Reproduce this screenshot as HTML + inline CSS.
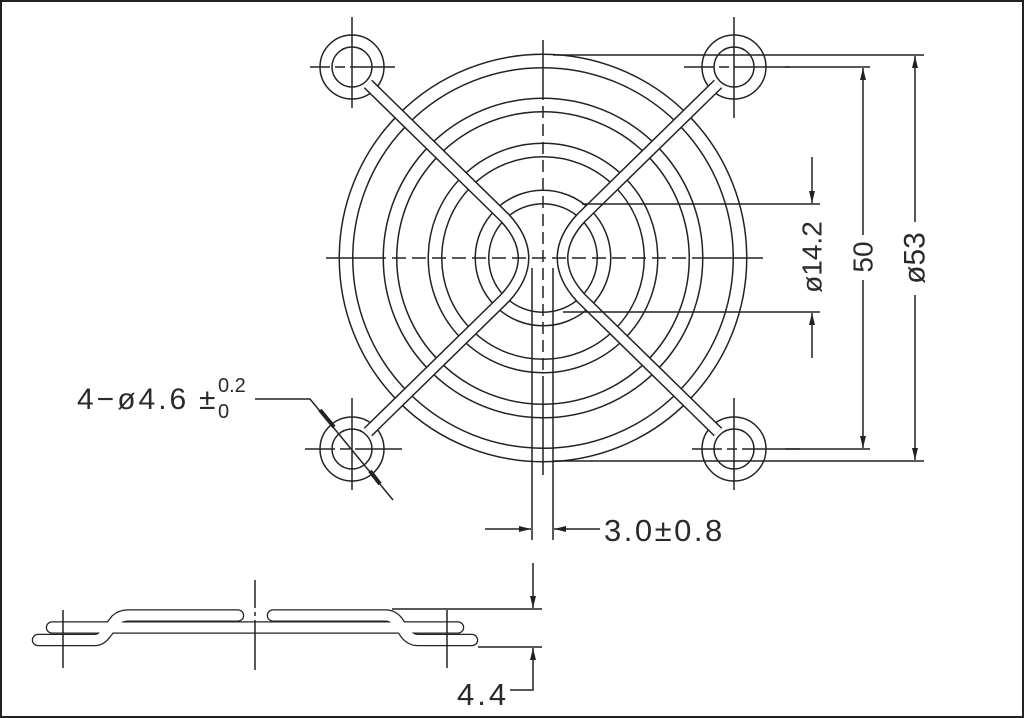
<!DOCTYPE html>
<html><head><meta charset="utf-8"><style>
html,body{margin:0;padding:0;background:#fff;}
svg{display:block;}
text{font-family:"Liberation Sans",sans-serif;fill:#2a2a2a;}
</style></head><body>
<svg width="1024" height="718" viewBox="0 0 1024 718" xmlns="http://www.w3.org/2000/svg">
<rect x="1" y="1" width="1022" height="716" fill="#fff" stroke="#222" stroke-width="2"/>
<defs>
<marker id="ar" viewBox="0 0 12 6" refX="12" refY="3" markerWidth="12" markerHeight="6" markerUnits="userSpaceOnUse" orient="auto">
<path d="M0,0 L12,3 L0,6 Z" fill="#222"/></marker>
</defs>
<g stroke="#222" fill="none" stroke-width="1.5">
<g stroke="#222" stroke-width="15">
<circle cx="543" cy="258" r="197"/><circle cx="543" cy="258" r="153"/><circle cx="543" cy="258" r="108"/><circle cx="543" cy="258" r="61"/>
<circle cx="352" cy="67" r="26" stroke-width="13.5"/><circle cx="734" cy="67" r="26" stroke-width="13.5"/>
<circle cx="352" cy="449" r="26" stroke-width="13.5"/><circle cx="734" cy="449" r="26" stroke-width="13.5"/>
</g>
<g stroke="#fff" stroke-width="12">
<circle cx="543" cy="258" r="197"/><circle cx="543" cy="258" r="153"/><circle cx="543" cy="258" r="108"/><circle cx="543" cy="258" r="61"/>
<circle cx="352" cy="67" r="26" stroke-width="10.5"/><circle cx="734" cy="67" r="26" stroke-width="10.5"/>
<circle cx="352" cy="449" r="26" stroke-width="10.5"/><circle cx="734" cy="449" r="26" stroke-width="10.5"/>
</g>
<path d="M368,84 L505,218 Q542,258 505,298 L368,432" stroke-width="12"/>
<path d="M718,84 L581,218 Q544,258 581,298 L718,432" stroke-width="12"/>
<path d="M368,84 L505,218 Q542,258 505,298 L368,432" stroke="#fff" stroke-width="9"/>
<path d="M718,84 L581,218 Q544,258 581,298 L718,432" stroke="#fff" stroke-width="9"/>
<line x1="543" y1="40" x2="543" y2="475" stroke-dasharray="60,6,12,6,12,6,12,6,12,6,12,6,12,6,12,6,12,6,12,6,12,6,12,6,12,6,12,6,12,6,12,6,100"/>
<line x1="326" y1="258" x2="763" y2="258" stroke-dasharray="60,6,14,6,14,6,14,6,14,6,14,6,14,6,14,6,14,6,14,6,14,6,14,6,14,6,14,6,14,6,14,6,80"/>
<line x1="532" y1="268" x2="532" y2="540"/>
<line x1="553" y1="268" x2="553" y2="540"/>
<g>
<line x1="352" y1="17" x2="352" y2="108"/><line x1="310" y1="67" x2="395" y2="67" stroke-dasharray="20,5,10,5,45"/>
<line x1="734" y1="17" x2="734" y2="118"/><line x1="684" y1="67" x2="790" y2="67" stroke-dasharray="30,5,10,5,70"/>
<line x1="352" y1="398" x2="352" y2="490"/><line x1="305" y1="449" x2="402" y2="449" stroke-dasharray="30,5,10,5,60"/>
<line x1="734" y1="398" x2="734" y2="490"/><line x1="692" y1="449" x2="800" y2="449" stroke-dasharray="30,5,10,5,60"/>
</g>
<line x1="553" y1="55" x2="924" y2="55"/><line x1="553" y1="461" x2="924" y2="461"/>
<line x1="785" y1="67" x2="870" y2="67"/><line x1="785" y1="449" x2="870" y2="449"/>
<line x1="582" y1="204" x2="820" y2="204"/><line x1="563" y1="312" x2="820" y2="312"/>
<line x1="915" y1="222" x2="915" y2="56" marker-end="url(#ar)"/>
<line x1="915" y1="295" x2="915" y2="460" marker-end="url(#ar)"/>
<line x1="863" y1="235" x2="863" y2="68" marker-end="url(#ar)"/>
<line x1="863" y1="280" x2="863" y2="448" marker-end="url(#ar)"/>
<line x1="812" y1="157" x2="812" y2="203" marker-end="url(#ar)"/>
<line x1="812" y1="358" x2="812" y2="313" marker-end="url(#ar)"/>
<line x1="485" y1="529" x2="531" y2="529" marker-end="url(#ar)"/>
<line x1="600" y1="529" x2="554" y2="529" marker-end="url(#ar)"/>
<polyline points="255,399 310,399 393,500"/>
<line x1="320" y1="410" x2="334" y2="427" stroke-width="4"/>
<line x1="370" y1="471" x2="380" y2="484" stroke-width="4"/>
<path d="M52,627.5 L458,627.5" stroke-width="12.5" stroke-linecap="round"/>
<path d="M38,640 L95,640 Q101,640 106,633 L116,620 Q121,615.5 128,615.5 L238,615.5 M273,615.5 L386,615.5 Q392,615.5 397,621 L406,634 Q411,640 418,640 L472,640" stroke-width="12.5" stroke-linecap="round"/>
<path d="M52,627.5 L458,627.5" stroke="#fff" stroke-width="10" stroke-linecap="round"/>
<path d="M38,640 L95,640 Q101,640 106,633 L116,620 Q121,615.5 128,615.5 L238,615.5 M273,615.5 L386,615.5 Q392,615.5 397,621 L406,634 Q411,640 418,640 L472,640" stroke="#fff" stroke-width="10" stroke-linecap="round"/>
<line x1="63" y1="610" x2="63" y2="668"/>
<line x1="255" y1="580" x2="255" y2="670" stroke-dasharray="28,4,4,4,60"/>
<line x1="447" y1="610" x2="447" y2="668"/>
<line x1="392" y1="609" x2="542" y2="609"/>
<line x1="478" y1="647" x2="542" y2="647"/>
<line x1="533" y1="563" x2="533" y2="608" marker-end="url(#ar)"/>
<polyline points="510,690 533,690 533,648" marker-end="url(#ar)"/>
</g>
<text x="812" y="257" font-size="28" text-anchor="middle" dominant-baseline="central" transform="rotate(-90 812 257)">ø14.2</text>
<text x="863" y="257" font-size="28" text-anchor="middle" dominant-baseline="central" transform="rotate(-90 863 257)">50</text>
<text x="915" y="258" font-size="30" text-anchor="middle" dominant-baseline="central" transform="rotate(-90 915 258)">ø53</text>
<text x="604" y="541" font-size="31" letter-spacing="2.5">3.0±0.8</text>
<text x="457" y="705" font-size="31" letter-spacing="3">4.4</text>
<text x="77" y="409" font-size="30" letter-spacing="3">4−ø4.6</text>
<text x="199" y="409" font-size="30">±</text>
<text x="218" y="392" font-size="20">0.2</text>
<text x="218" y="418" font-size="20">0</text>
</svg>
</body></html>
